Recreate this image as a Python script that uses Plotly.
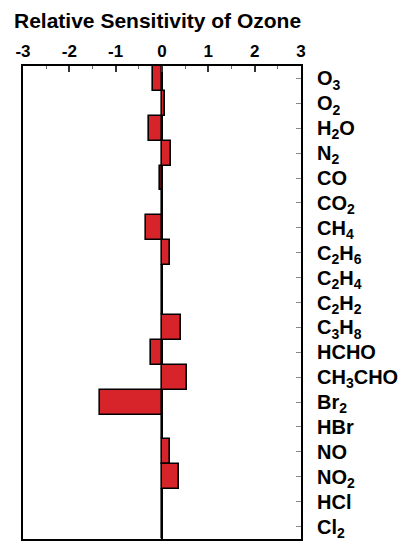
import plotly.graph_objects as go

species = ["O<sub>3</sub>", "O<sub>2</sub>", "H<sub>2</sub>O", "N<sub>2</sub>", "CO", "CO<sub>2</sub>",
           "CH<sub>4</sub>", "C<sub>2</sub>H<sub>6</sub>", "C<sub>2</sub>H<sub>4</sub>", "C<sub>2</sub>H<sub>2</sub>",
           "C<sub>3</sub>H<sub>8</sub>", "HCHO", "CH<sub>3</sub>CHO", "Br<sub>2</sub>", "HBr", "NO",
           "NO<sub>2</sub>", "HCl", "Cl<sub>2</sub>"]
sensitivity = [-0.20, 0.07, -0.28, 0.20, -0.05, 0.0,
               -0.35, 0.18, 0.0, 0.0,
               0.41, -0.23, 0.54, -1.34, 0.0, 0.18,
               0.36, 0.0, 0.0]
x_ticks = [-3, -2, -1, 0, 1, 2, 3]
title_text = "Relative Sensitivity of Ozone"

FONT = "Liberation Sans, Arial, sans-serif"

fig = go.Figure(go.Bar(
    x=sensitivity, y=species, orientation="h",
    marker=dict(color="#d7242b", line=dict(color="black", width=1.6)),
    width=1.0,
))

fig.update_layout(
    width=407, height=550,
    margin=dict(l=23, r=106, t=66, b=11, autoexpand=False),
    paper_bgcolor="white", plot_bgcolor="white",
    bargap=0, showlegend=False,
    title=dict(text="<b>" + title_text + "</b>", xref="container", x=14/407, xanchor="left",
               yref="container", y=1 - 21/550, yanchor="middle",
               font=dict(family=FONT, size=21, color="black")),
    font=dict(family=FONT, color="black"),
)

fig.update_xaxes(
    side="top", range=[-3, 3], tickvals=x_ticks, ticktext=[f"<b>{v}</b>" for v in x_ticks],
    ticks="inside", ticklen=6, tickwidth=1.5, tickcolor="#333",
    minor=dict(ticks="inside", ticklen=3, tickwidth=1, tickcolor="#666", dtick=0.5, tick0=0.5, showgrid=False),
    showline=True, linecolor="black", linewidth=2, mirror=True, automargin=False,
    showgrid=False, zeroline=True, zerolinecolor="black", zerolinewidth=2,
    tickfont=dict(family=FONT, size=17, color="black"),
)

fig.update_yaxes(
    side="right", autorange="reversed", categoryorder="array", categoryarray=species,
    ticks="inside", ticklen=5, tickwidth=1, tickcolor="#888",
    showline=True, linecolor="black", linewidth=2, mirror=True, automargin=False,
    showgrid=False, ticklabelstandoff=10,
    tickfont=dict(family=FONT, size=20, color="black"),
    tickprefix="<b>", ticksuffix="</b>",
)

fig.write_html("out.html", config={"displayModeBar": False},
               post_script="document.body.style.margin='0';")
